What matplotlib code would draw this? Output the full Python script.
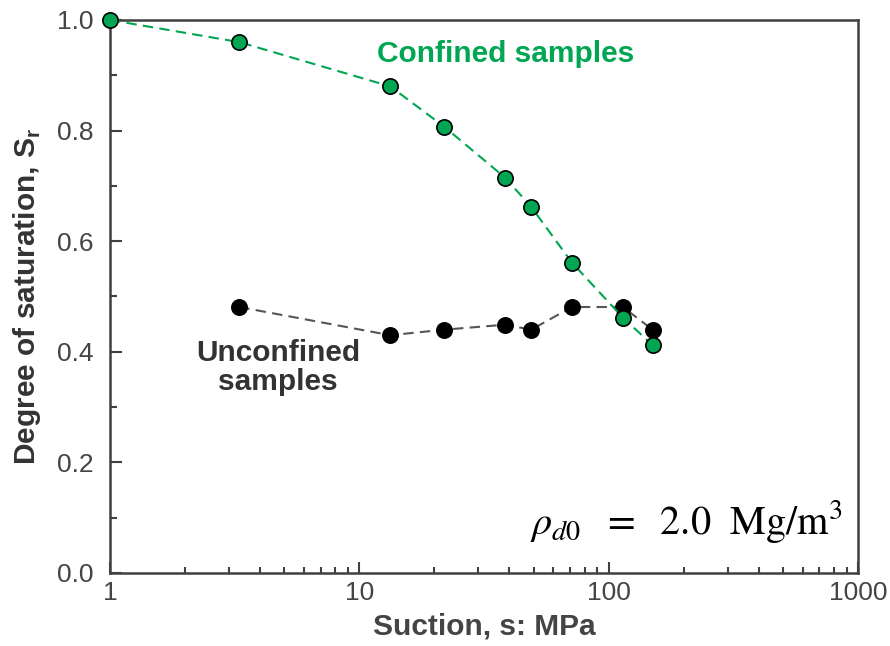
import matplotlib
matplotlib.use("Agg")
import matplotlib.pyplot as plt
from matplotlib.ticker import MultipleLocator, LogLocator, NullFormatter, FixedLocator, FixedFormatter, FormatStrFormatter

# Data
suction_confined = [1.0, 3.3, 13.3, 21.9, 38.4, 48.9, 71.3, 114, 150]
sr_confined = [1.0, 0.96, 0.88, 0.807, 0.715, 0.662, 0.561, 0.462, 0.412]

suction_unconfined = [3.3, 13.3, 21.9, 38.4, 48.9, 71.3, 114, 150]
sr_unconfined = [0.481, 0.430, 0.440, 0.449, 0.440, 0.481, 0.481, 0.440]

x_ticks = [1, 10, 100, 1000]
x_tick_labels = ["1", "10", "100", "1000"]

green = "#00a651"
dark = "#404040"

plt.rcParams["font.family"] = ["Liberation Sans", "DejaVu Sans"]
plt.rcParams["mathtext.fontset"] = "custom"
plt.rcParams["mathtext.rm"] = "Liberation Sans:bold"
plt.rcParams["mathtext.bf"] = "Liberation Sans:bold"

fig = plt.figure(figsize=(8.9, 6.46), dpi=100)
ax = fig.add_axes([110 / 890, 1 - 573 / 646, (858 - 110) / 890, (573 - 20) / 646])

# unconfined (black) below, confined (green) on top
ax.plot(suction_unconfined, sr_unconfined, ls=(0, (5, 3)), color="#555555", lw=1.5,
        marker="o", ms=11, mfc="black", mec="black", mew=1.2, zorder=3, clip_on=False)
ax.plot(suction_confined, sr_confined, ls=(0, (5, 3)), color=green, lw=1.5,
        marker="o", ms=11, mfc=green, mec="black", mew=1.2, zorder=4, clip_on=False)

ax.set_xscale("log")
ax.set_xlim(1, 1000)
ax.set_ylim(0, 1.0)

ax.xaxis.set_major_locator(FixedLocator(x_ticks))
ax.xaxis.set_major_formatter(FixedFormatter(x_tick_labels))
ax.xaxis.set_minor_locator(LogLocator(base=10, subs=range(2, 10)))
ax.xaxis.set_minor_formatter(NullFormatter())
ax.yaxis.set_major_locator(MultipleLocator(0.2))
ax.yaxis.set_minor_locator(MultipleLocator(0.1))
ax.yaxis.set_major_formatter(FormatStrFormatter("%.1f"))

ax.tick_params(axis="x", which="major", direction="in", length=8, width=1.5,
               color=dark, labelsize=19, labelcolor="#444444", pad=6)
ax.tick_params(axis="x", which="minor", direction="in", length=4.5, width=1.5, color=dark)
ax.tick_params(axis="y", which="major", direction="in", length=8.5, width=1.5,
               color=dark, labelsize=19, labelcolor="#444444", pad=12)
ax.tick_params(axis="y", which="minor", direction="in", length=5, width=1.5, color=dark)

for s in ax.spines.values():
    s.set_color(dark)
    s.set_linewidth(1.8)

ax.set_xlabel("Suction, s: MPa", fontsize=21.5, fontweight="bold", color="#444444", labelpad=5)
ax.set_ylabel("Degree of saturation, S$_\\mathbf{r}$", fontsize=21.5, fontweight="bold",
              color="#333333", labelpad=10)

ax.text(0.529, 0.938, "Confined samples", transform=ax.transAxes, ha="center", va="center",
        fontsize=21.5, fontweight="bold", color=green)
ax.text(0.225, 0.371, "Unconfined\nsamples", transform=ax.transAxes, ha="center", va="center",
        fontsize=21.5, fontweight="bold", color="#333333", linespacing=1.05)
ax.text(0.979, 0.069, r"$\rho_{d0}\ \ =\ \ 2.0\ \ \mathrm{Mg/m^3}$", transform=ax.transAxes,
        ha="right", va="baseline", fontsize=29, color="black", math_fontfamily="stix")

fig.savefig("out.png", dpi=100)
